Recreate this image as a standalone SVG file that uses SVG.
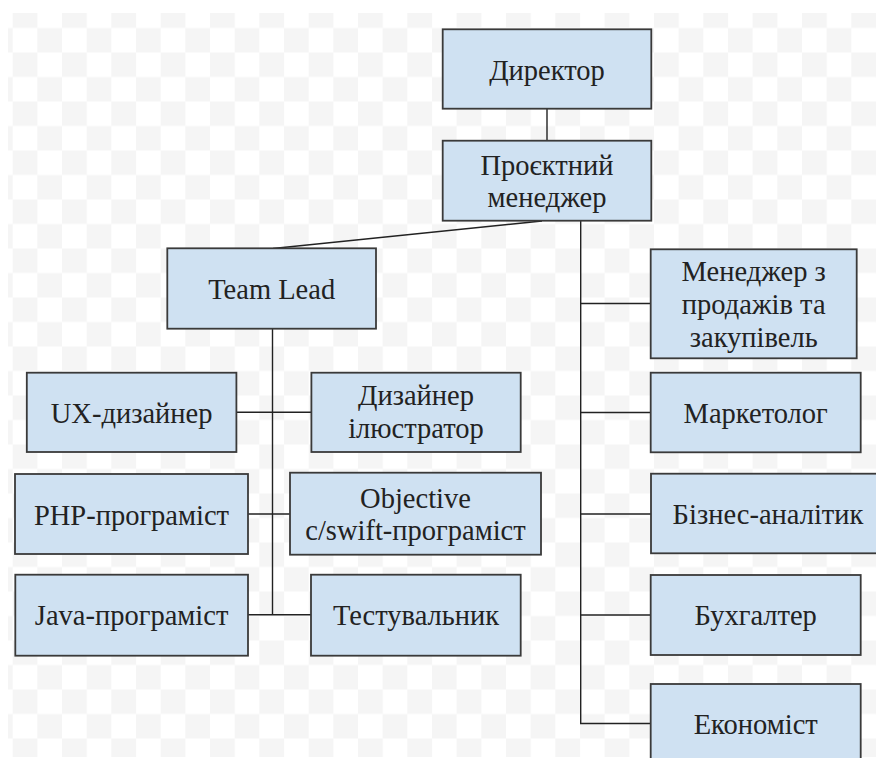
<svg xmlns="http://www.w3.org/2000/svg" width="876" height="758" viewBox="0 0 876 758">
  <defs>
    <pattern id="checker" patternUnits="userSpaceOnUse" x="12.67" y="3.5" width="49.33" height="49">
      <rect x="0" y="0" width="49.33" height="49" fill="#ffffff"/>
      <rect x="0" y="0" width="24.67" height="24.5" fill="#f5f5f5"/>
      <rect x="24.67" y="24.5" width="24.67" height="24.5" fill="#f5f5f5"/>
    </pattern>
  </defs>
  <style>
    .box { fill: #cfe1f2; stroke: #3a3a3a; stroke-width: 1.8; }
    .lbl { font-family: 'Liberation Serif', 'DejaVu Serif', serif; font-size: 28.5px; fill: #222222; text-anchor: middle; }
    .link { stroke: #222222; stroke-width: 1.4; fill: none; }
  </style>

  <rect x="0" y="0" width="876" height="758" fill="#ffffff"/>
  <rect x="8" y="13" width="868" height="744" fill="url(#checker)"/>

  <g id="connectors">
    <line class="link" x1="547" y1="109" x2="547" y2="141"/>
    <line class="link" x1="542" y1="221" x2="273" y2="248.5"/>
    <polyline class="link" points="580.7,221 580.7,723.5 651,723.5"/>
    <line class="link" x1="580.7" y1="303.5" x2="651" y2="303.5"/>
    <line class="link" x1="580.7" y1="412.5" x2="651" y2="412.5"/>
    <line class="link" x1="580.7" y1="514" x2="651" y2="514"/>
    <line class="link" x1="580.7" y1="615" x2="651" y2="615"/>
    <line class="link" x1="272.5" y1="328.7" x2="272.5" y2="614.7"/>
    <line class="link" x1="236.4" y1="412.3" x2="311.4" y2="412.3"/>
    <line class="link" x1="248" y1="514" x2="290" y2="514"/>
    <line class="link" x1="248" y1="614.7" x2="311" y2="614.7"/>
  </g>

  <g id="nodes" font-family="Liberation Serif, serif">
  <g id="director">
    <rect class="box" x="442.7" y="29.3" width="208.6" height="79.4"/>
    <text class="lbl" x="547" y="80">Директор</text>
  </g>
  <g id="project-manager">
    <rect class="box" x="442.7" y="140.7" width="208.6" height="80"/>
    <text class="lbl" x="547" y="175">Проєктний</text>
    <text class="lbl" x="547" y="207">менеджер</text>
  </g>
  <g id="team-lead">
    <rect class="box" x="167.3" y="248.3" width="208.7" height="80.4"/>
    <text class="lbl" x="271.7" y="299">Team Lead</text>
  </g>
  <g id="ux-designer">
    <rect class="box" x="26.8" y="372.7" width="209.6" height="79.3"/>
    <text class="lbl" x="131.6" y="423">UX-дизайнер</text>
  </g>
  <g id="illustrator">
    <rect class="box" x="311.4" y="372.7" width="209.3" height="79.3"/>
    <text class="lbl" x="416" y="405">Дизайнер</text>
    <text class="lbl" x="416" y="438">ілюстратор</text>
  </g>
  <g id="php-dev">
    <rect class="box" x="15" y="474" width="233" height="80"/>
    <text class="lbl" x="131.5" y="525">PHP-програміст</text>
  </g>
  <g id="ios-dev">
    <rect class="box" x="290" y="472.7" width="251" height="82"/>
    <text class="lbl" x="415.5" y="507.5">Objective</text>
    <text class="lbl" x="415.5" y="540">c/swift-програміст</text>
  </g>
  <g id="java-dev">
    <rect class="box" x="15.3" y="574.7" width="232.7" height="81"/>
    <text class="lbl" x="131.6" y="625">Java-програміст</text>
  </g>
  <g id="tester">
    <rect class="box" x="311" y="574.7" width="209.7" height="81"/>
    <text class="lbl" x="416" y="625">Тестувальник</text>
  </g>
  <g id="sales-manager">
    <rect class="box" x="650.7" y="249.3" width="206" height="109"/>
    <text class="lbl" x="753.7" y="281">Менеджер з</text>
    <text class="lbl" x="753.7" y="314">продажів та</text>
    <text class="lbl" x="753.7" y="347">закупівель</text>
  </g>
  <g id="marketer">
    <rect class="box" x="650.7" y="372.7" width="210" height="79.6"/>
    <text class="lbl" x="755.7" y="423">Маркетолог</text>
  </g>
  <g id="business-analyst">
    <rect class="box" x="651" y="473.7" width="234" height="79.6"/>
    <text class="lbl" x="768" y="524">Бізнес-аналітик</text>
  </g>
  <g id="accountant">
    <rect class="box" x="650.7" y="575" width="210" height="80"/>
    <text class="lbl" x="755.7" y="625">Бухгалтер</text>
  </g>
  <g id="economist">
    <rect class="box" x="650.7" y="684" width="210" height="80"/>
    <text class="lbl" x="755.7" y="734.3">Економіст</text>
  </g>
  </g>
</svg>
